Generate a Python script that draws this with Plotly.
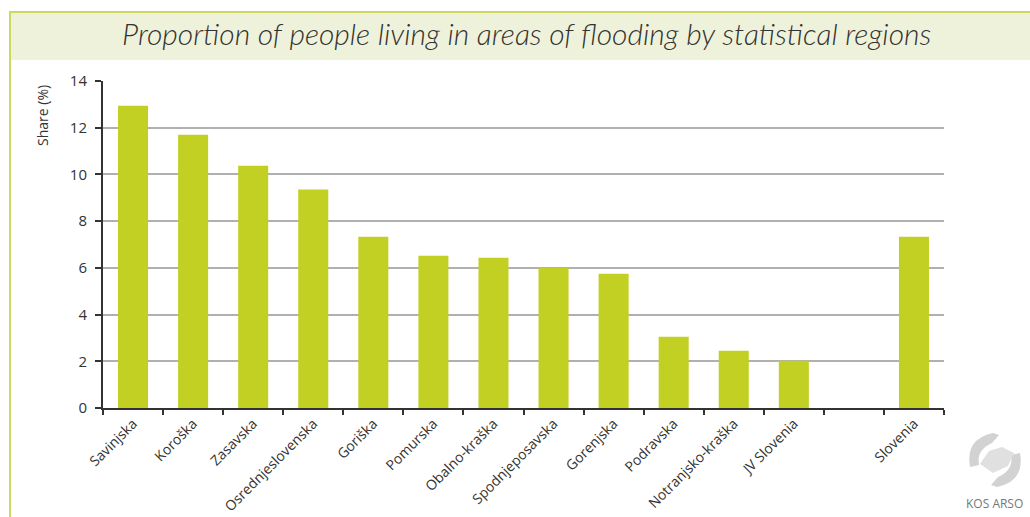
import plotly.graph_objects as go

# ---- data ----
regions = ["Savinjska", "Koroška", "Zasavska", "Osrednjeslovenska", "Goriška",
           "Pomurska", "Obalno-kraška", "Spodnjeposavska", "Gorenjska", "Podravska",
           "Notranjsko-kraška", "JV Slovenia", " ", "Slovenia"]
share = [12.94, 11.70, 10.37, 9.35, 7.33, 6.52, 6.43, 6.00, 5.75, 3.05,
         2.45, 2.02, None, 7.33]
y_ticks = [0, 2, 4, 6, 8, 10, 12, 14]

title_text = "Proportion of people living in areas of flooding by statistical regions"
y_title = "Share (%)"
logo_text = "KOS ARSO"

# ---- layout geometry ----
W, H = 1030, 517
L, R, T, B = 103, 86, 81, 109
PW, PH = W - L - R, H - T - B


def px(x):
    return (x - L) / PW


def py(y):
    return (H - B - y) / PH


BAR = "#c2d024"
FRAME = "#cdd860"
BAND = "#eff2da"
TXT = "#333333"

fig = go.Figure()
fig.add_trace(go.Bar(x=regions, y=share, marker=dict(color=BAR, line=dict(width=0)),
                     width=0.5, hoverinfo="x+y"))

shapes = [
    # title band
    dict(type="rect", xref="paper", yref="paper", x0=px(10), x1=px(1031), y0=py(60), y1=py(12),
         fillcolor=BAND, line=dict(width=0), layer="below"),
    # top frame line
    dict(type="line", xref="paper", yref="paper", x0=px(9), x1=px(1031), y0=py(12), y1=py(12),
         line=dict(color=FRAME, width=2)),
    # left frame line
    dict(type="line", xref="paper", yref="paper", x0=px(10), x1=px(10), y0=py(12), y1=py(518),
         line=dict(color=FRAME, width=2)),
]

# simple logo approximation (two curved arrows around a map blob)
cx, cy = 995, 460
def P(x, y):
    return f"{px(x)},{py(y)}"
path1 = (f"M {P(cx-2, cy-27)} Q {P(cx-30, cy-21)} {P(cx-25, cy+7)} "
         f"L {P(cx-16, cy+5)} Q {P(cx-19, cy-10)} {P(cx-3, cy-17)} L {P(cx+4, cy-25)} Z")
path2 = (f"M {P(cx+2, cy+27)} Q {P(cx+30, cy+21)} {P(cx+25, cy-7)} "
         f"L {P(cx+16, cy-5)} Q {P(cx+19, cy+10)} {P(cx+3, cy+17)} L {P(cx-4, cy+25)} Z")
path3 = (f"M {P(cx-15, cy+4)} L {P(cx-6, cy-9)} L {P(cx+7, cy-13)} L {P(cx+19, cy-7)} "
         f"L {P(cx+13, cy+6)} L {P(cx-2, cy+13)} Z")
for p, c in [(path1, "#d2d2d2"), (path2, "#d2d2d2"), (path3, "#e0e0e0")]:
    shapes.append(dict(type="path", xref="paper", yref="paper", path=p,
                       fillcolor=c, line=dict(width=0)))

annotations = [
    dict(text=f"<i>{title_text}</i>", xref="paper", yref="paper", x=px(526), y=py(33),
         xanchor="center", yanchor="middle", showarrow=False,
         font=dict(family="Lato", size=30, color=TXT, weight=300)),
    dict(text=y_title, xref="paper", yref="paper", x=px(42), y=py(116),
         xanchor="center", yanchor="middle", textangle=-90, showarrow=False,
         font=dict(family="Open Sans", size=14, color=TXT)),
    dict(text=logo_text, xref="paper", yref="paper", x=px(994), y=py(503),
         xanchor="center", yanchor="middle", showarrow=False,
         font=dict(family="Open Sans", size=12, color="#777777")),
]

fig.update_layout(
    width=W, height=H,
    margin=dict(l=L, r=R, t=T, b=B, pad=0, autoexpand=False),
    paper_bgcolor="white", plot_bgcolor="white",
    showlegend=False,
    bargap=0.5,
    shapes=shapes,
    annotations=annotations,
    font=dict(family="Open Sans", size=14, color=TXT),
    xaxis=dict(
        type="category", categoryorder="array", categoryarray=regions,
        tickangle=-45, tickson="boundaries", ticks="outside", ticklen=5,
        tickwidth=2, tickcolor=TXT, showline=True, linecolor=TXT, linewidth=2,
        showgrid=False, tickfont=dict(family="Open Sans", size=14, color=TXT),
        fixedrange=True, automargin=False,
    ),
    yaxis=dict(
        range=[0, 14], tickvals=y_ticks, ticks="outside", ticklen=6, tickwidth=2,
        tickcolor=TXT, showline=True, linecolor=TXT, linewidth=2,
        showgrid=True, gridcolor="#b0b0b0", gridwidth=1.5, zeroline=False,
        tickfont=dict(family="Open Sans", size=15, color=TXT),
        ticklabelstandoff=5,
        fixedrange=True, automargin=False,
    ),
)

fig.write_html("out.html", config={"displayModeBar": False},
               post_script="document.body.style.margin='0';document.body.style.overflow='hidden';")
